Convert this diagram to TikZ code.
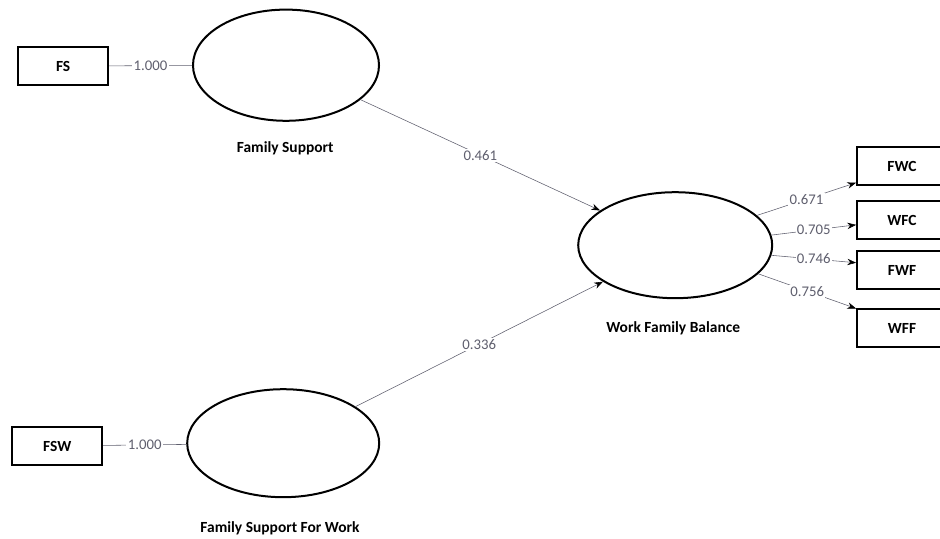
\documentclass[tikz,border=0pt]{standalone}
\usepackage{fontspec}
\setmainfont{Carlito}
\usetikzlibrary{arrows.meta,shapes.geometric}
\definecolor{pathgray}{RGB}{95,95,110}
\tikzset{
  lat_v/.style = {ellipse, draw=black, line width=0.5mm, inner sep=0pt},
  ind_b/.style = {rectangle, draw=black, line width=0.45mm, minimum width=2.25cm, minimum height=0.95cm, font=\bfseries\fontsize{11}{12}\selectfont},
  lat_l/.style = {font=\bfseries\fontsize{11}{12}\selectfont},
  pth/.style = {draw=pathgray, line width=0.4pt},
  arr/.style = {pth, -{Stealth[black, length=2.2mm, width=1.6mm]}},
  coef/.style = {fill=white, inner sep=1pt, text=pathgray, font=\fontsize{10.5}{11}\selectfont},
}

\begin{document}
\begin{tikzpicture}
  \useasboundingbox (0,0) rectangle (23.5,-13.45);
  % latent variables
  \node [lat_v, minimum width=4.65cm, minimum height=2.78cm] (fs_l) at (7.15,-1.63) {};
  \node [lat_v, minimum width=4.8cm, minimum height=2.7cm] (fsw_l) at (7.08,-11.08) {};
  \node [lat_v, minimum width=4.85cm, minimum height=2.65cm] (wfb_l) at (16.88,-6.13) {};
  \node [lat_l] (fs_t) at (7.13,-3.7) {Family Support};
  \node [lat_l] (fsw_t) at (7.0,-13.2) {Family Support For Work};
  \node [lat_l] (wfb_t) at (16.83,-8.2) {Work Family Balance};
  % indicators
  \node [ind_b] (fs) at (1.58,-1.65) {FS};
  \node [ind_b] (fsw) at (1.43,-11.15) {FSW};
  \node [ind_b] (fwc) at (22.55,-4.15) {FWC};
  \node [ind_b] (wfc) at (22.55,-5.5) {WFC};
  \node [ind_b] (fwf) at (22.55,-6.75) {FWF};
  \node [ind_b] (wff) at (22.55,-8.2) {WFF};
  % outer model
  \draw [pth] (fs) -- node [coef] {1.000} (fs_l);
  \draw [pth] (fsw) -- node [coef] {1.000} (fsw_l);
  \draw [arr] (wfb_l.20) -- node [coef] {0.671} (fwc.200);
  \draw [arr] (wfb_l.6) -- node [coef] {0.705} (wfc.186);
  \draw [arr] (wfb_l.354) -- node [coef] {0.746} (fwf.171);
  \draw [arr] (wfb_l.341) -- node [coef] {0.756} (wff.157);
  % inner model
  \draw [arr] (fs_l) -- node [coef] {0.461} (wfb_l);
  \draw [arr] (fsw_l) -- node [coef] {0.336} (wfb_l);
\end{tikzpicture}
\end{document}
